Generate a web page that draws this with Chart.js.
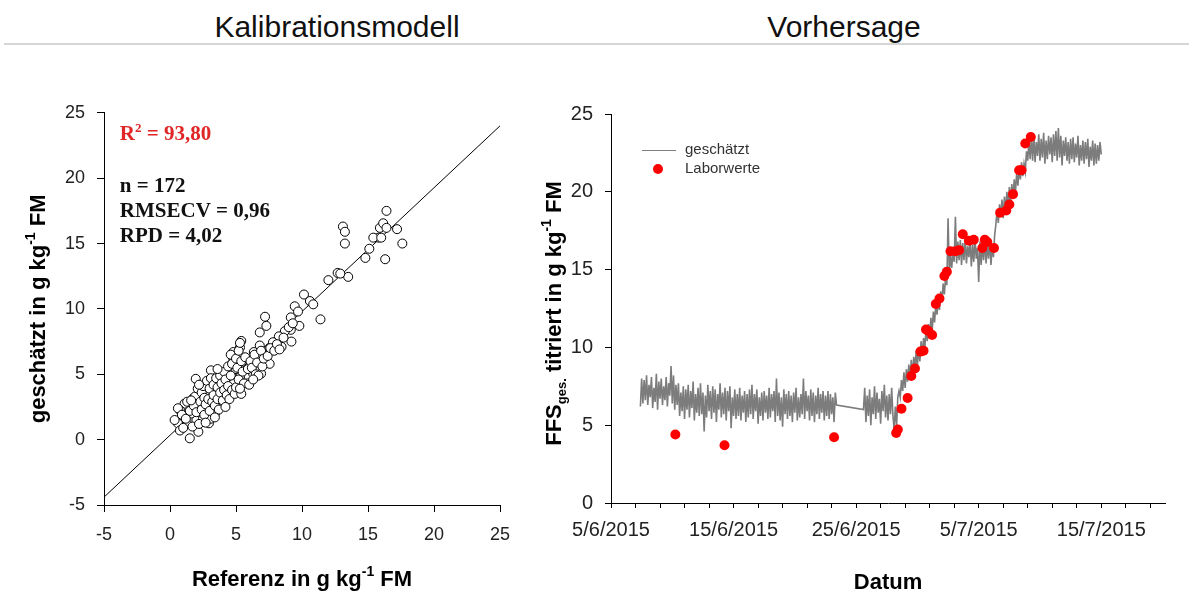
<!DOCTYPE html>
<html lang="de">
<head>
<meta charset="utf-8">
<title>Kalibrationsmodell / Vorhersage</title>
<script src="https://cdn.jsdelivr.net/npm/chart.js@4.4.1/dist/chart.umd.min.js"></script>
<style>
  html, body { margin: 0; padding: 0; background: #fff; }
  body { width: 1189px; height: 591px; position: relative; overflow: hidden; font-family: "Liberation Sans", Arial, sans-serif; }
  .titel { position: absolute; top: 10px; font-size: 30px; line-height: 34px; color: #111; transform: translateX(-50%); white-space: nowrap; }
  .trenner { position: absolute; left: 4px; right: 0; top: 43px; border-top: 2px solid #d6d6d6; }
  .box { position: absolute; top: 90px; height: 501px; }
</style>
</head>
<body>
<div class="titel" style="left:337px">Kalibrationsmodell</div>
<div class="titel" style="left:844px">Vorhersage</div>
<div class="trenner"></div>
<div class="box" style="left:0;width:530px"><canvas id="kalibration"></canvas></div>
<div class="box" style="left:540px;width:649px"><canvas id="vorhersage"></canvas></div>

<script>
// ---- Kalibrationsmodell: Referenz vs. geschätzt (g/kg FM) ----
const referenz = [
  16.4, 13.1, 13.25, 13.25, 15.9, 16.15, 15.8, 15.4, 16.0, 16.4, 17.2, 17.6, 16.3, 15.1, 14.8, 13.5, 12.7, 12.0, 12.9,
  10.15, 10.6, 10.85, 11.4, 9.45, 9.7, 9.15, 9.8, 9.15, 8.7, 9.2, 8.25, 8.45, 7.8, 7.2, 7.3, 6.8, 6.8, 7.5, 7.3, 7.55,
  6.35, 6.3, 6.9, 6.3, 5.85, 5.4, 5.3, 5.3, 4.8, 4.8, 5.0, 5.3, 4.55, 5.15, 4.55, 4.15, 3.75, 3.5, 3.1, 3.95, 3.65,
  3.25, 4.0, 3.5, 2.9, 2.75, 2.75, 2.95, 3.4, 2.25, 1.95, 2.25, 1.75, 2.0, 2.15, 1.5, 1.25, 1.1, 0.75, 0.6, 0.35,
  0.75, 1.6, 2.5, 3.1, 4.8,
  0.6, 0.9, 1.2, 1.3, 1.5, 1.7, 1.8, 1.9, 2.0, 2.1, 2.2, 2.3, 2.4, 2.4, 2.5, 2.6, 2.6, 2.7, 2.8, 2.9, 3.0, 3.0, 3.1,
  3.2, 3.3, 3.3, 3.4, 3.5, 3.6, 3.6, 3.7, 3.8, 3.8, 3.9, 4.0, 4.1, 4.1, 4.2, 4.3, 4.4, 4.4, 4.5, 4.6, 4.6, 4.7, 4.7,
  4.9, 5.0, 5.0, 5.1, 5.2, 5.2, 5.3, 5.4, 5.4, 5.5, 5.6, 5.7, 5.9, 6.0, 6.1, 6.2, 6.4, 6.5, 6.6, 6.7, 6.9, 7.0, 7.1,
  7.4, 7.6, 7.9, 8.1, 8.3, 8.6, 9.0, 9.3, 1.0, 1.6, 2.2, 3.6, 4.2, 5.3, 6.3, 3.4, 2.7
];
const geschaetztKal = [
  17.5, 16.3, 15.9, 15.0, 16.2, 16.55, 15.45, 15.45, 15.45, 16.2, 16.1, 15.0, 13.8, 14.6, 13.9, 12.45, 12.75, 12.2, 12.7,
  11.1, 10.6, 10.35, 9.2, 10.2, 9.8, 9.35, 8.7, 8.4, 8.3, 7.5, 7.9, 7.1, 7.45, 9.4, 8.7, 8.2, 7.2, 6.95, 6.55, 5.8,
  6.7, 5.8, 5.05, 5.05, 4.3, 7.55, 7.05, 6.4, 6.7, 6.05, 5.4, 4.8, 4.9, 3.65, 4.15, 4.8, 4.4, 5.05, 5.3, 3.75, 3.5,
  3.65, 2.6, 3.25, 4.25, 3.5, 2.5, 1.25, 2.0, 3.75, 4.65, 2.75, 3.15, 1.5, 0.6, 0.1, 1.25, 2.75, 2.25, 1.25, 1.5,
  0.7, 2.0, 1.6, 1.6, 4.3,
  2.4, 1.9, 1.6, 2.9, 2.2, 1.0, 2.6, 3.3, 2.1, 3.9, 1.2, 2.9, 3.6, 2.3, 4.1, 1.9, 3.2, 2.7, 4.5, 3.1, 2.2, 3.9, 4.7,
  2.9, 3.4, 4.2, 2.6, 4.7, 3.1, 4.0, 2.3, 3.6, 4.9, 4.3, 3.0, 5.2, 3.8, 4.6, 3.4, 5.6, 4.1, 3.1, 4.9, 6.5, 3.8, 5.8,
  3.5, 6.2, 4.0, 5.5, 6.8, 4.6, 7.4, 6.0, 3.5, 5.2, 4.3, 6.3, 5.4, 4.2, 6.0, 5.5, 6.5, 5.0, 5.9, 4.9, 6.8, 5.6, 6.2,
  6.4, 7.0, 6.8, 7.3, 6.9, 7.8, 8.6, 8.9, 0.9, 3.0, 4.2, 5.4, 2.5, 3.9, 4.6, 1.7, 1.3
];
// Regressionsgerade (Endpunkte im Achsenbereich)
const geradeX = [-5, 25];
const geradeY = [-4.4, 24.0];

const bestimmtheit = '93,80';
const kennzahlen = ['n = 172', 'RMSECV = 0,96', 'RPD = 4,02'];

// ---- Vorhersage: FFS über die Zeit ----
// Tage ab 5/6/2015
const datumsTicks = [0, 10, 20, 30, 40];
const datumsLabels = ['5/6/2015', '15/6/2015', '25/6/2015', '5/7/2015', '15/7/2015'];

// geschätzt, Messreihe 1 (ab Tag 2,4) und Messreihe 2 (ab Tag 20,6), Abstand 0,1 Tage
const startA = 2.4;
const startB = 20.6;
const schritt = 0.1;
const schaetzA = [
  6.2, 8.0, 6.4, 7.9, 6.6, 8.2, 6.3, 7.6, 6.8, 8.1,
  6.1, 7.4, 6.5, 8.3, 6.0, 7.8, 6.7, 8.0, 6.3, 7.5,
  6.6, 8.1, 6.2, 7.7, 6.9, 8.8, 6.4, 8.2, 6.0, 7.6,
  6.3, 7.7, 5.6, 7.1, 5.9, 7.5, 5.4, 7.3, 6.0, 7.6,
  5.5, 7.2, 6.1, 7.8, 5.3, 7.0, 5.8, 7.4, 5.6, 7.7,
  5.7, 7.1, 4.6, 6.9, 5.5, 7.6, 5.9, 7.2, 5.4, 7.5,
  5.8, 7.3, 5.2, 7.0, 6.0, 7.7, 5.5, 7.1, 5.7, 7.4,
  5.3, 7.2, 5.9, 7.5, 4.8, 6.8, 5.6, 7.3, 5.4, 7.0,
  5.6, 7.4, 5.3, 6.9, 5.8, 7.2, 5.2, 7.0, 5.5, 7.3,
  5.7, 7.6, 5.4, 7.0, 5.9, 7.3, 5.1, 6.8, 5.6, 7.1,
  5.3, 7.2, 5.8, 6.9, 5.4, 7.4, 5.5, 7.0, 5.9, 7.2,
  5.2, 8.0, 5.6, 7.1, 5.3, 6.8, 4.9, 7.3, 5.7, 7.0,
  5.4, 7.2, 5.6, 6.9, 5.2, 7.1, 5.8, 7.4, 5.3, 6.8,
  5.5, 7.0, 5.7, 8.0, 5.4, 7.2, 5.9, 6.9, 5.3, 7.3,
  5.6, 7.1, 5.2, 6.9, 5.7, 7.4, 5.4, 7.0, 5.8, 7.2,
  5.3, 6.9, 5.6, 7.2, 5.4, 7.0, 5.7, 6.8, 5.2, 7.1, 6.3
];
const schaetzB = [
  6.0, 7.4, 5.2, 6.9, 5.6, 7.3, 5.0, 6.8, 5.7, 7.5,
  5.4, 7.1, 5.8, 6.7, 5.1, 7.2, 5.9, 7.6, 5.5, 6.9,
  5.3, 7.0, 5.7, 7.4, 5.6, 4.8, 6.2, 4.9, 6.8, 7.2,
  6.8, 7.9, 7.2, 8.4, 7.4, 8.6, 7.8, 8.9, 8.0, 9.2,
  8.1, 9.4, 8.6, 9.8, 8.8, 10.0, 9.1, 10.4, 9.5, 10.6,
  9.9, 11.2, 10.4, 11.5, 10.6, 11.9, 11.0, 12.3, 11.6, 12.8,
  12.1, 13.2, 12.4, 13.6, 12.9, 14.1, 13.4, 14.6, 14.0, 18.3,
  14.8, 15.9, 15.1, 16.2, 15.5, 18.4, 15.4, 16.8, 15.6, 16.9,
  15.3, 16.7, 15.6, 17.0, 15.4, 16.5, 15.8, 16.9, 15.2, 16.6,
  15.5, 17.0, 15.7, 16.4, 14.2, 16.8, 15.3, 16.6, 15.6, 17.0,
  15.4, 16.7, 15.7, 16.9, 15.3, 16.5, 15.8, 17.2, 17.9, 18.8,
  18.0, 19.2, 18.4, 19.5, 18.3, 19.7, 18.7, 20.0, 19.0, 20.3,
  19.2, 20.5, 19.6, 20.8, 20.0, 21.2, 20.4, 21.5, 20.8, 21.9,
  21.0, 21.8, 21.3, 22.6, 22.0, 23.3, 22.1, 23.5, 22.0, 23.6,
  21.9, 23.2, 22.3, 23.7, 22.0, 23.4, 22.2, 23.8, 21.8, 23.3,
  22.1, 23.6, 22.4, 23.5, 21.9, 23.7, 22.3, 23.9, 22.0, 24.1,
  22.2, 23.6, 21.7, 23.3, 22.3, 23.5, 22.0, 23.2, 21.8, 23.4,
  22.1, 23.5, 21.9, 23.1, 22.2, 23.6, 21.7, 23.0, 22.0, 23.3,
  21.8, 23.2, 22.1, 23.4, 21.6, 22.9, 22.0, 23.3, 21.7, 23.1,
  21.8, 23.0, 22.0, 23.2, 22.4
];

// Laborwerte (titriert)
const laborTag = [
  5.25, 9.26, 18.2, 23.27, 23.4, 23.7, 24.2, 24.5, 24.8, 25.25, 25.5, 25.7, 25.9, 26.2, 26.5, 26.8, 27.2, 27.4,
  27.7, 28.1, 28.4, 28.7, 29.2, 29.6, 30.3, 30.5, 30.7, 31.25, 31.75, 32.25, 32.5, 32.8, 33.3, 33.5, 33.8, 34.25
];
const laborWert = [
  4.4, 3.71, 4.23, 4.5, 4.72, 6.06, 6.75, 8.16, 8.64, 9.73, 9.79, 11.15, 11.05, 10.8, 12.79, 13.14, 14.59, 14.86,
  16.18, 16.18, 16.25, 17.27, 16.86, 16.92, 16.39, 16.92, 16.77, 16.39, 18.66, 18.8, 19.18, 19.85, 21.38, 21.38, 23.1, 23.52
];

// ---- Hilfsfunktionen ----
const SANS = '"Liberation Sans", Arial, sans-serif';
const SERIF = '"Liberation Serif", "Times New Roman", serif';

function zeichneTitel(ctx, teile, x, y, gedreht) {
  // Achsentitel mit Hoch-/Tiefstellung
  ctx.save();
  ctx.translate(x, y);
  if (gedreht) ctx.rotate(-Math.PI / 2);
  let breite = 0;
  teile.forEach(t => {
    ctx.font = `bold ${t.size}px ${SANS}`;
    breite += ctx.measureText(t.text).width;
  });
  let cx = -breite / 2;
  ctx.fillStyle = '#000';
  ctx.textBaseline = 'alphabetic';
  ctx.textAlign = 'left';
  teile.forEach(t => {
    ctx.font = `bold ${t.size}px ${SANS}`;
    ctx.fillText(t.text, cx, 8 + t.shift);
    cx += ctx.measureText(t.text).width;
  });
  ctx.restore();
}

function achse(min, max, step, fontSize, tickLen, pad, groesse, horizontal, callback) {
  const opts = {
    type: 'linear',
    min: min,
    max: max,
    grid: { display: true, drawOnChartArea: false, drawTicks: true, tickLength: tickLen, color: '#000', lineWidth: 1 },
    border: { display: true, color: '#000', width: 1 },
    ticks: {
      stepSize: step,
      includeBounds: false,
      autoSkip: false,
      maxRotation: 0,
      color: '#222',
      padding: pad,
      font: { family: SANS, size: fontSize }
    },
    afterFit: (scale) => {
      if (horizontal) scale.height = groesse; else scale.width = groesse;
    }
  };
  if (callback) opts.ticks.callback = callback;
  return opts;
}

// ---- Plugins ----
const kalibrationsText = {
  id: 'kalibrationsText',
  afterDraw(chart) {
    const { ctx, chartArea, scales: { x, y } } = chart;
    const links = x.getPixelForValue(-3.8);
    ctx.save();
    ctx.textBaseline = 'middle';
    ctx.textAlign = 'left';
    // R² in Rot
    let py = y.getPixelForValue(23.3);
    ctx.fillStyle = '#e02626';
    ctx.font = `bold 21px ${SERIF}`;
    ctx.fillText('R', links, py);
    let w = ctx.measureText('R').width;
    ctx.font = `bold 13px ${SERIF}`;
    ctx.fillText('2', links + w, py - 6);
    w += ctx.measureText('2').width;
    ctx.font = `bold 21px ${SERIF}`;
    ctx.fillText(' = ' + bestimmtheit, links + w, py);
    // Kennzahlen
    ctx.fillStyle = '#111';
    const zeilen = [19.35, 17.45, 15.55];
    kennzahlen.forEach((t, i) => ctx.fillText(t, links, y.getPixelForValue(zeilen[i])));
    ctx.restore();

    const mitteX = (chartArea.left + chartArea.right) / 2;
    const mitteY = (chartArea.top + chartArea.bottom) / 2;
    zeichneTitel(ctx, [
      { text: 'Referenz in g kg', size: 22, shift: 0 },
      { text: '-1', size: 14, shift: -10 },
      { text: ' FM', size: 22, shift: 0 }
    ], mitteX, chartArea.bottom + 73, false);
    zeichneTitel(ctx, [
      { text: 'geschätzt in g kg', size: 22, shift: 0 },
      { text: '-1', size: 14, shift: -10 },
      { text: ' FM', size: 22, shift: 0 }
    ], chartArea.left - 67, mitteY, true);
  }
};

const vorhersageText = {
  id: 'vorhersageText',
  afterDraw(chart) {
    const { ctx, chartArea } = chart;
    const l = chartArea.left, t = chartArea.top;
    ctx.save();
    // Legende
    ctx.strokeStyle = '#808080';
    ctx.lineWidth = 1;
    ctx.beginPath();
    ctx.moveTo(l + 31, t + 36.5);
    ctx.lineTo(l + 65, t + 36.5);
    ctx.stroke();
    ctx.fillStyle = '#f00';
    ctx.beginPath();
    ctx.arc(l + 47, t + 55, 5, 0, Math.PI * 2);
    ctx.fill();
    ctx.fillStyle = '#333';
    ctx.font = `15px ${SANS}`;
    ctx.textBaseline = 'middle';
    ctx.textAlign = 'left';
    ctx.fillText('geschätzt', l + 74, t + 36);
    ctx.fillText('Laborwerte', l + 74, t + 55);
    ctx.restore();

    const mitteX = (chartArea.left + chartArea.right) / 2;
    const mitteY = (chartArea.top + chartArea.bottom) / 2;
    zeichneTitel(ctx, [{ text: 'Datum', size: 22, shift: 0 }], mitteX, chartArea.bottom + 78, false);
    zeichneTitel(ctx, [
      { text: 'FFS', size: 22, shift: 0 },
      { text: 'ges.', size: 13, shift: 5 },
      { text: ' titriert in g kg', size: 22, shift: 0 },
      { text: '-1', size: 14, shift: -10 },
      { text: ' FM', size: 22, shift: 0 }
    ], chartArea.left - 58, mitteY + 5, true);
  }
};

const gemeinsam = {
  responsive: true,
  maintainAspectRatio: false,
  devicePixelRatio: 1,
  animation: false,
  events: [],
  plugins: { legend: { display: false }, tooltip: { enabled: false } }
};

// ---- Diagramm 1: Kalibrationsmodell ----
new Chart(document.getElementById('kalibration'), {
  type: 'scatter',
  data: {
    datasets: [
      {
        label: 'Proben',
        data: referenz.map((v, i) => ({ x: v, y: geschaetztKal[i] })),
        pointRadius: 4.5,
        pointBorderWidth: 1,
        borderColor: '#000',
        backgroundColor: '#fff'
      },
      {
        label: 'Gerade',
        data: geradeX.map((v, i) => ({ x: v, y: geradeY[i] })),
        showLine: true,
        borderColor: '#000',
        borderWidth: 1,
        pointRadius: 0
      }
    ]
  },
  options: {
    ...gemeinsam,
    layout: { padding: { top: 20, right: 30, left: 0, bottom: 0 } },
    scales: {
      x: achse(-5, 25, 5, 18, 7, 12, 86, true),
      y: achse(-5, 25, 5, 18, 7, 12, 104, false)
    }
  },
  plugins: [kalibrationsText]
});

// ---- Diagramm 2: Vorhersage ----
const geschaetzt = [
  ...schaetzA.map((v, i) => ({ x: +(startA + i * schritt).toFixed(2), y: v })),
  ...schaetzB.map((v, i) => ({ x: +(startB + i * schritt).toFixed(2), y: v }))
];

new Chart(document.getElementById('vorhersage'), {
  type: 'scatter',
  data: {
    datasets: [
      {
        label: 'Laborwerte',
        data: laborTag.map((v, i) => ({ x: v, y: laborWert[i] })),
        pointRadius: 5,
        pointBorderWidth: 0,
        backgroundColor: '#f00',
        borderColor: '#f00'
      },
      {
        label: 'geschätzt',
        data: geschaetzt,
        showLine: true,
        borderColor: '#7c7c7c',
        borderWidth: 1.6,
        pointRadius: 0
      }
    ]
  },
  options: {
    ...gemeinsam,
    layout: { padding: { top: 20, right: 24, left: 0, bottom: 0 } },
    scales: {
      x: achse(0, 45.2, 2, 20, 5, 10, 88, true, (v) => {
        const i = datumsTicks.indexOf(v);
        return i >= 0 ? datumsLabels[i] : '';
      }),
      y: achse(0, 25, 5, 20, 6, 12, 71, false)
    }
  },
  plugins: [vorhersageText]
});
</script>
</body>
</html>
